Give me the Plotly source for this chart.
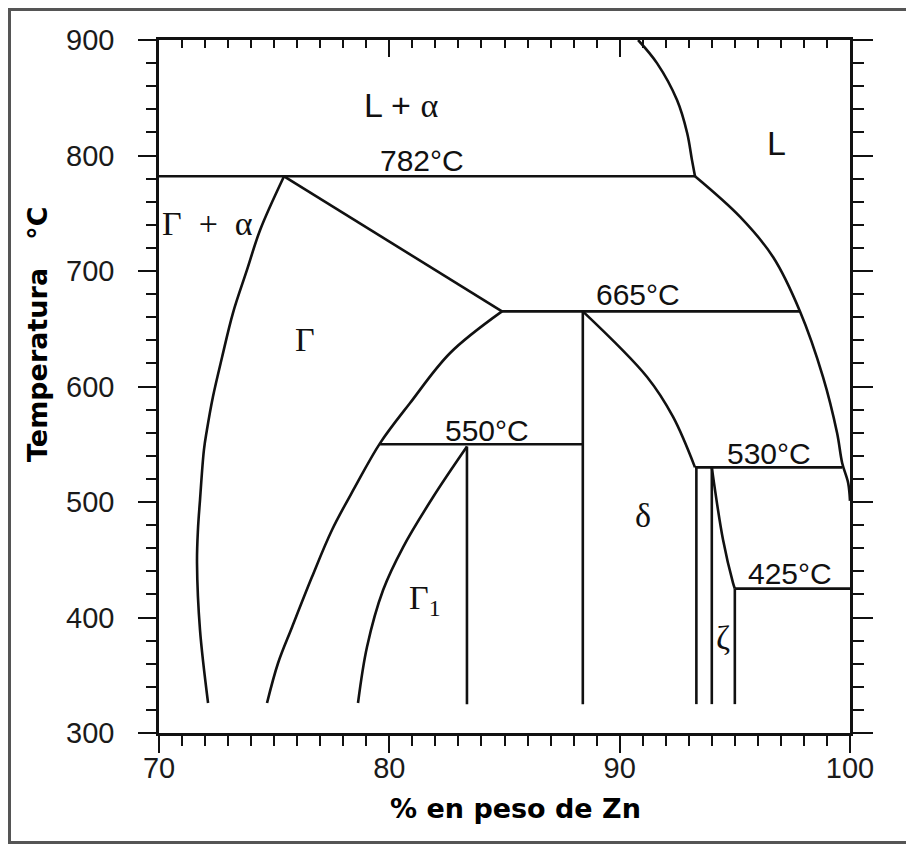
import plotly.graph_objects as go

# Diagrama de fases Fe-Zn (lado rico en Zn)
# cada frontera: lista de % Zn y lista de temperaturas

liq_sup_x = [90.8, 91.62, 92.49, 92.93, 93.14, 93.27]
liq_sup_y = [900, 880, 848, 819.5, 796, 782]

liq_inf_x = [93.27, 95.23, 96.66, 97.83, 98.83, 99.44, 99.66, 99.92, 100.0]
liq_inf_y = [782, 746.8, 712.1, 665, 608.2, 559.7, 533.8, 516.5, 501]

iso_782_x = [70, 93.27]
iso_782_y = [782, 782]

gamma_alfa_x = [75.43, 74.39, 73.82, 73.21, 72.74, 72.34, 72.08, 71.95, 71.78, 71.69, 71.65, 71.78, 72.13]
gamma_alfa_y = [782, 735.5, 700.9, 663.6, 625.5, 590.9, 562.3, 545, 501.7, 475.8, 447.2, 389.2, 326]

peritec_x = [75.43, 84.89]
peritec_y = [782, 665]

gamma_der_x = [84.89, 82.64, 80.90, 79.60, 78.51, 77.51, 76.64, 75.78, 75.17, 74.69]
gamma_der_y = [665, 629, 585.7, 551, 513, 475.8, 435, 391.8, 360.6, 326]

iso_665_x = [84.89, 97.83]
iso_665_y = [665, 665]

iso_550_x = [79.60, 88.4]
iso_550_y = [550, 550]

gamma1_x = [83.37, 81.9, 80.6, 79.73, 79.03, 78.64]
gamma1_y = [548, 504.3, 461, 423.8, 374.5, 326]

vert_834_x = [83.37, 83.37]
vert_834_y = [548, 325]

vert_884_x = [88.4, 88.4]
vert_884_y = [665, 325]

delta_der_x = [88.4, 91.19, 92.32, 93.27]
delta_der_y = [665, 608.2, 573.6, 530]

iso_530_x = [93.27, 99.66]
iso_530_y = [530, 530]

vert_933_x = [93.33, 93.33]
vert_933_y = [530, 325]

vert_940_x = [94.0, 94.0]
vert_940_y = [530, 325]

zeta_der_x = [94.0, 94.49, 94.92, 95.0]
zeta_der_y = [530, 467, 430, 425]

vert_950_x = [95.0, 95.0]
vert_950_y = [425, 325]

iso_425_x = [95.0, 100]
iso_425_y = [425, 425]

# (x, y, es_curva)
fronteras = [
    (liq_sup_x, liq_sup_y, True), (liq_inf_x, liq_inf_y, True), (iso_782_x, iso_782_y, False),
    (gamma_alfa_x, gamma_alfa_y, True), (peritec_x, peritec_y, False), (gamma_der_x, gamma_der_y, True),
    (iso_665_x, iso_665_y, False), (iso_550_x, iso_550_y, False), (gamma1_x, gamma1_y, True),
    (vert_834_x, vert_834_y, False), (vert_884_x, vert_884_y, False), (delta_der_x, delta_der_y, True),
    (iso_530_x, iso_530_y, False), (vert_933_x, vert_933_y, False), (vert_940_x, vert_940_y, False),
    (zeta_der_x, zeta_der_y, True), (vert_950_x, vert_950_y, False), (iso_425_x, iso_425_y, False),
]

# etiquetas de temperaturas
temp_txt = ['782°C', '665°C', '550°C', '530°C', '425°C']
temp_x = [81.4, 90.8, 84.24, 96.49, 97.4]
temp_y = [796, 680, 561.5, 542.4, 438.5]

# etiquetas de fases
SERIF = "<span style='font-family:Liberation Serif'>"
fase_txt = ['L + ' + SERIF + 'α</span>', 'L', SERIF + 'Γ\u2002+\u2002α</span>', SERIF + 'Γ</span>',
            SERIF + 'δ</span>', SERIF + 'ζ</span>', SERIF + 'Γ<sub>1</sub></span>']
fase_x = [80.5, 96.8, 72.1, 76.35, 91.02, 94.49, 81.55]
fase_y = [843.7, 810.8, 740.7, 640.3, 488.7, 382.3, 415]

fig = go.Figure()

for fx, fy, curva in fronteras:
    fig.add_trace(go.Scatter(
        x=fx, y=fy, mode='lines',
        line=dict(color='#111111', width=2.6, shape='spline' if curva else 'linear', smoothing=1),
        showlegend=False, hoverinfo='skip'
    ))

# traza vacia para los ejes de arriba y derecha
fig.add_trace(go.Scatter(x=[70], y=[300], xaxis='x2', yaxis='y2',
                         mode='markers', marker=dict(opacity=0),
                         showlegend=False, hoverinfo='skip'))

for t, xx, yy in zip(temp_txt, temp_x, temp_y):
    fig.add_annotation(x=xx, y=yy, text=t, showarrow=False,
                       font=dict(family='Liberation Sans', size=30, color='#111111'))

for t, xx, yy in zip(fase_txt, fase_x, fase_y):
    fig.add_annotation(x=xx, y=yy, text=t, showarrow=False,
                       font=dict(family='Liberation Sans', size=34, color='#111111'))

# la pagina deja 8 px de margen: el area de trazado va de x 151 a 842 y de y 32 a 725
AX, AY = 691, 693
fig.add_annotation(xref='paper', yref='paper', x=(507 - 151) / AX, y=(725 - 800) / AY,
                   xanchor='center', yanchor='middle',
                   text='<b>% en peso de Zn</b>', showarrow=False,
                   font=dict(family='DejaVu Sans', size=27, color='black'))
fig.add_annotation(xref='paper', yref='paper', x=(30 - 151) / AX, y=(725 - 326) / AY,
                   xanchor='center', yanchor='middle',
                   text='<b>Temperatura   °C</b>', showarrow=False, textangle=-90,
                   font=dict(family='DejaVu Sans', size=27, color='black'))

# marco exterior
fig.add_shape(type='rect', xref='paper', yref='paper',
              x0=(1.5 - 151) / AX, x1=(904.5 - 151) / AX,
              y0=(725 - 834.5) / AY, y1=(725 - 1.5) / AY,
              line=dict(color='#555555', width=3))

eje = dict(showgrid=False, zeroline=False, showline=True,
           linecolor='#111111', linewidth=2.5, tickcolor='#111111', tickwidth=2)
fuente_ticks = dict(family='Liberation Sans', size=29, color='#1a1a1a')

fig.update_layout(
    width=906, height=836,
    margin=dict(l=151, r=64, t=32, b=111),
    paper_bgcolor='white', plot_bgcolor='white',
    xaxis=dict(range=[70, 100], dtick=10, ticks='outside', ticklen=17,
               tickfont=fuente_ticks, ticklabelstandoff=-10,
               minor=dict(dtick=1, ticks='outside', ticklen=10, tickwidth=2, tickcolor='#111111'),
               **eje),
    yaxis=dict(range=[300, 900], dtick=100, ticks='outside', ticklen=18,
               tickfont=fuente_ticks, ticklabelstandoff=18,
               minor=dict(dtick=20, ticks='outside', ticklen=10, tickwidth=2, tickcolor='#111111'),
               **eje),
    xaxis2=dict(range=[70, 100], dtick=10, overlaying='x', side='top', anchor='y2',
                ticks='inside', ticklen=17, showticklabels=False,
                minor=dict(dtick=1, ticks='inside', ticklen=8, tickwidth=2, tickcolor='#111111'),
                **eje),
    yaxis2=dict(range=[300, 900], dtick=100, overlaying='y', side='right', anchor='x2',
                ticks='outside', ticklen=20, showticklabels=False,
                minor=dict(dtick=20, ticks='outside', ticklen=11, tickwidth=2, tickcolor='#111111'),
                **eje),
)

fig.write_html("out.html")
